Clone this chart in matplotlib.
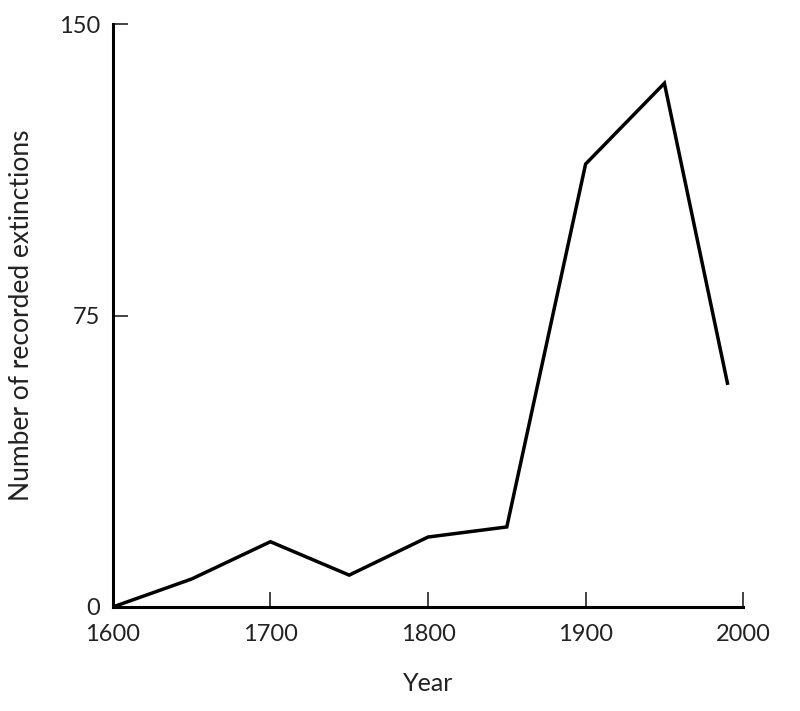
import matplotlib
matplotlib.use('Agg')
import matplotlib.pyplot as plt

# recorded extinctions by year
years = [1600, 1650, 1700, 1750, 1800, 1850, 1900, 1950, 1990]
extinctions = [0, 7.2, 16.8, 8.2, 18, 20.6, 114, 134.8, 57.6]
xticks = [1600, 1700, 1800, 1900, 2000]
yticks = [0, 75, 150]

plt.rcParams['font.family'] = ['Lato', 'DejaVu Sans']

fig = plt.figure(figsize=(8, 7.11), dpi=100)
ax = fig.add_axes([0.141, 0.1463, 0.788, 0.8197])

ax.plot(years, extinctions, color='black', linewidth=2.5, solid_joinstyle='miter')

ax.set_xlim(1600, 2000)
ax.set_ylim(0, 150)
ax.set_xticks(xticks)
ax.set_yticks(yticks)
ax.tick_params(axis='both', direction='in', length=11, width=1.2,
               labelsize=17, colors='#222222')
ax.tick_params(axis='x', pad=12)
ax.tick_params(axis='y', pad=9)

for side in ['top', 'right']:
   ax.spines[side].set_visible(False)
for side in ['left', 'bottom']:
   ax.spines[side].set_linewidth(2.2)

ax.set_xlabel('Year', fontsize=18, color='#222222', labelpad=20)
ax.set_ylabel('Number of recorded extinctions', fontsize=19, color='#222222', labelpad=18)

fig.savefig('out.png', dpi=100)
